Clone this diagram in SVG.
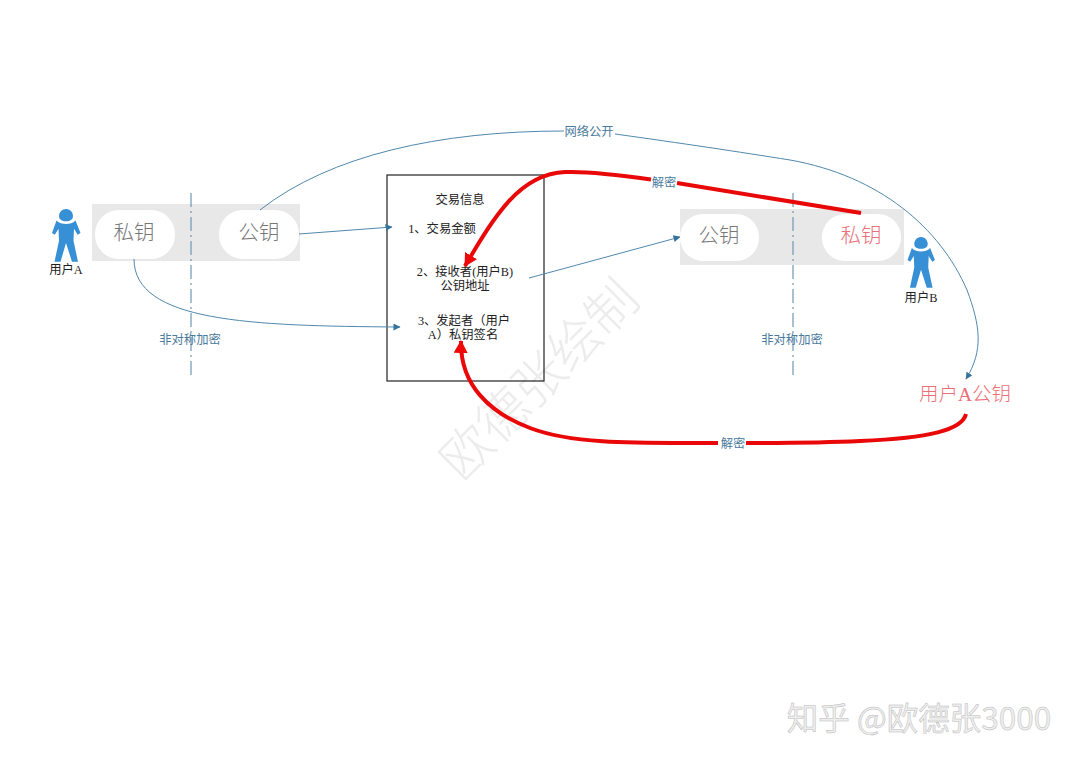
<svg xmlns="http://www.w3.org/2000/svg" width="1080" height="764" viewBox="0 0 1080 764">
<defs>
<style>
text{font-family:"Liberation Serif","Noto Sans CJK SC",sans-serif;text-anchor:middle}
.blk{font-size:12.300px;fill:#222}
.blue{font-size:12.300px;fill:#4a7a9c}
.key{font-size:20.500px;fill:#777;font-weight:300}
.red{fill:#ea7078}
.band{fill:#e8e8e8}
.pill{fill:#fff}
.axis{stroke:#6f97b2;stroke-width:1.200;stroke-dasharray:14 4 2 4;fill:none}
.thin{fill:none;stroke:#4f88ac;stroke-width:1}
.thick{fill:none;stroke:#e80808;stroke-width:4;stroke-linecap:butt}
.person{fill:#3790d6}
</style>
<marker id="a" markerWidth="8" markerHeight="8" refX="6.500" refY="3.500" orient="auto" markerUnits="userSpaceOnUse"><path d="M0 0L7 3.500L0 7z" fill="#35739c"/></marker>
<marker id="r" markerWidth="16" markerHeight="16" refX="12" refY="7" orient="auto" markerUnits="userSpaceOnUse"><path d="M0 0L13 7L0 14z" fill="#ee0808"/></marker>
<symbol id="man" viewBox="0 0 30 54" overflow="visible"><path class="person" d="M15 0a7 7 0 0 1 6.500 9.500c-1.500 2-4 2.800-6.500 2.800s-5-.8-6.500-2.800A7 7 0 0 1 15 0zM5.500 11.500c2.500 2.800 6 3.500 9.500 3.500s7-.7 9.500-3.500l5 12.500-2.800 1.800-3.700-6-.5 12 4.500 21h-6L15 34l-5.500 18.800h-6l4.500-21-.5-12-3.700 6L1 24z"/></symbol>
</defs>
<rect width="1080" height="764" fill="#fff"/>
<g id="watermark"><text x="552" y="392" transform="rotate(-45 552 392)" style="font-size:51px;fill:#ececec;font-weight:300;font-family:'Noto Sans CJK SC',sans-serif">欧德张绘制</text></g>
<g id="key-pair-a">
<rect class="band" x="92" y="204" width="208" height="57"/>
<rect class="pill" x="95" y="210" width="80" height="49" rx="24"/>
<rect class="pill" x="219" y="210" width="80" height="49" rx="24"/>
<text class="key" x="134" y="240">私钥</text>
<text class="key" x="259" y="240">公钥</text>
<line class="axis" x1="191" y1="193" x2="191" y2="376"/>
<text class="blue" x="190" y="344">非对称加密</text>
</g>
<g id="key-pair-b">
<rect class="band" x="680" y="209" width="224" height="56"/>
<rect class="pill" x="680" y="214" width="79" height="47" rx="23"/>
<rect class="pill" x="822" y="214" width="79" height="47" rx="23"/>
<text class="key" x="719" y="243">公钥</text>
<text class="key red" x="861" y="243">私钥</text>
<line class="axis" x1="793" y1="193" x2="793" y2="375"/>
<text class="blue" x="792" y="344">非对称加密</text>
</g>
<g id="user-a"><use href="#man" x="51" y="209" width="30" height="54"/><text class="blk" x="66" y="274">用户A</text></g>
<g id="user-b"><use href="#man" x="906" y="237" width="30" height="52"/><text class="blk" x="921" y="302">用户B</text></g>
<g id="tx-box">
<rect x="387" y="175" width="157" height="206" fill="none" stroke="#222" stroke-width="1.200"/>
<text class="blk" x="460" y="204">交易信息</text>
<text class="blk" x="442" y="233">1、交易金额</text>
<text class="blk" x="465" y="276">2、接收者(用户B)</text>
<text class="blk" x="465" y="290">公钥地址</text>
<text class="blk" x="464" y="325">3、发起者（用户</text>
<text class="blk" x="463" y="339">A）私钥签名</text>
</g>
<g id="user-a-pub"><text x="965" y="401" style="font-size:19.500px;font-weight:300" class="red">用户A公钥</text></g>
<g id="connectors">
<path class="thin" d="M260 210C330 155 440 131 564 131"/>
<path class="thin" marker-end="url(#a)" d="M615 134C680 143 740 152 790 160C880 176 940 228 967 290C980 325 984 350 966 379"/>
<path class="thin" marker-end="url(#a)" d="M134 259C134 322 250 326 400 327"/>
<path class="thin" marker-end="url(#a)" d="M299 234L392 227"/>
<path class="thin" marker-end="url(#a)" d="M529 278L680 237"/>
<path class="thick" d="M861 213L677 183"/>
<path class="thick" marker-end="url(#r)" d="M651 179.500C620 175 590 171 565 172C520 174 495 215 465 266"/>
<path class="thick" d="M966 414C962 430 930 438 860 441C820 443 790 443 746 443"/>
<path class="thick" marker-end="url(#r)" d="M718 443C640 443 575 445 530 428C490 413 460 385 461 341"/>
<text class="blue" x="589" y="136">网络公开</text>
<text class="blue" x="664" y="187">解密</text>
<text class="blue" x="733" y="448">解密</text>
</g>
<g id="brand"><text x="919" y="730" style="font-size:31.500px;fill:#eee;stroke:#bbb;stroke-width:.5;font-family:'Noto Sans CJK SC',sans-serif">知乎 @欧德张3000</text></g>
</svg>
